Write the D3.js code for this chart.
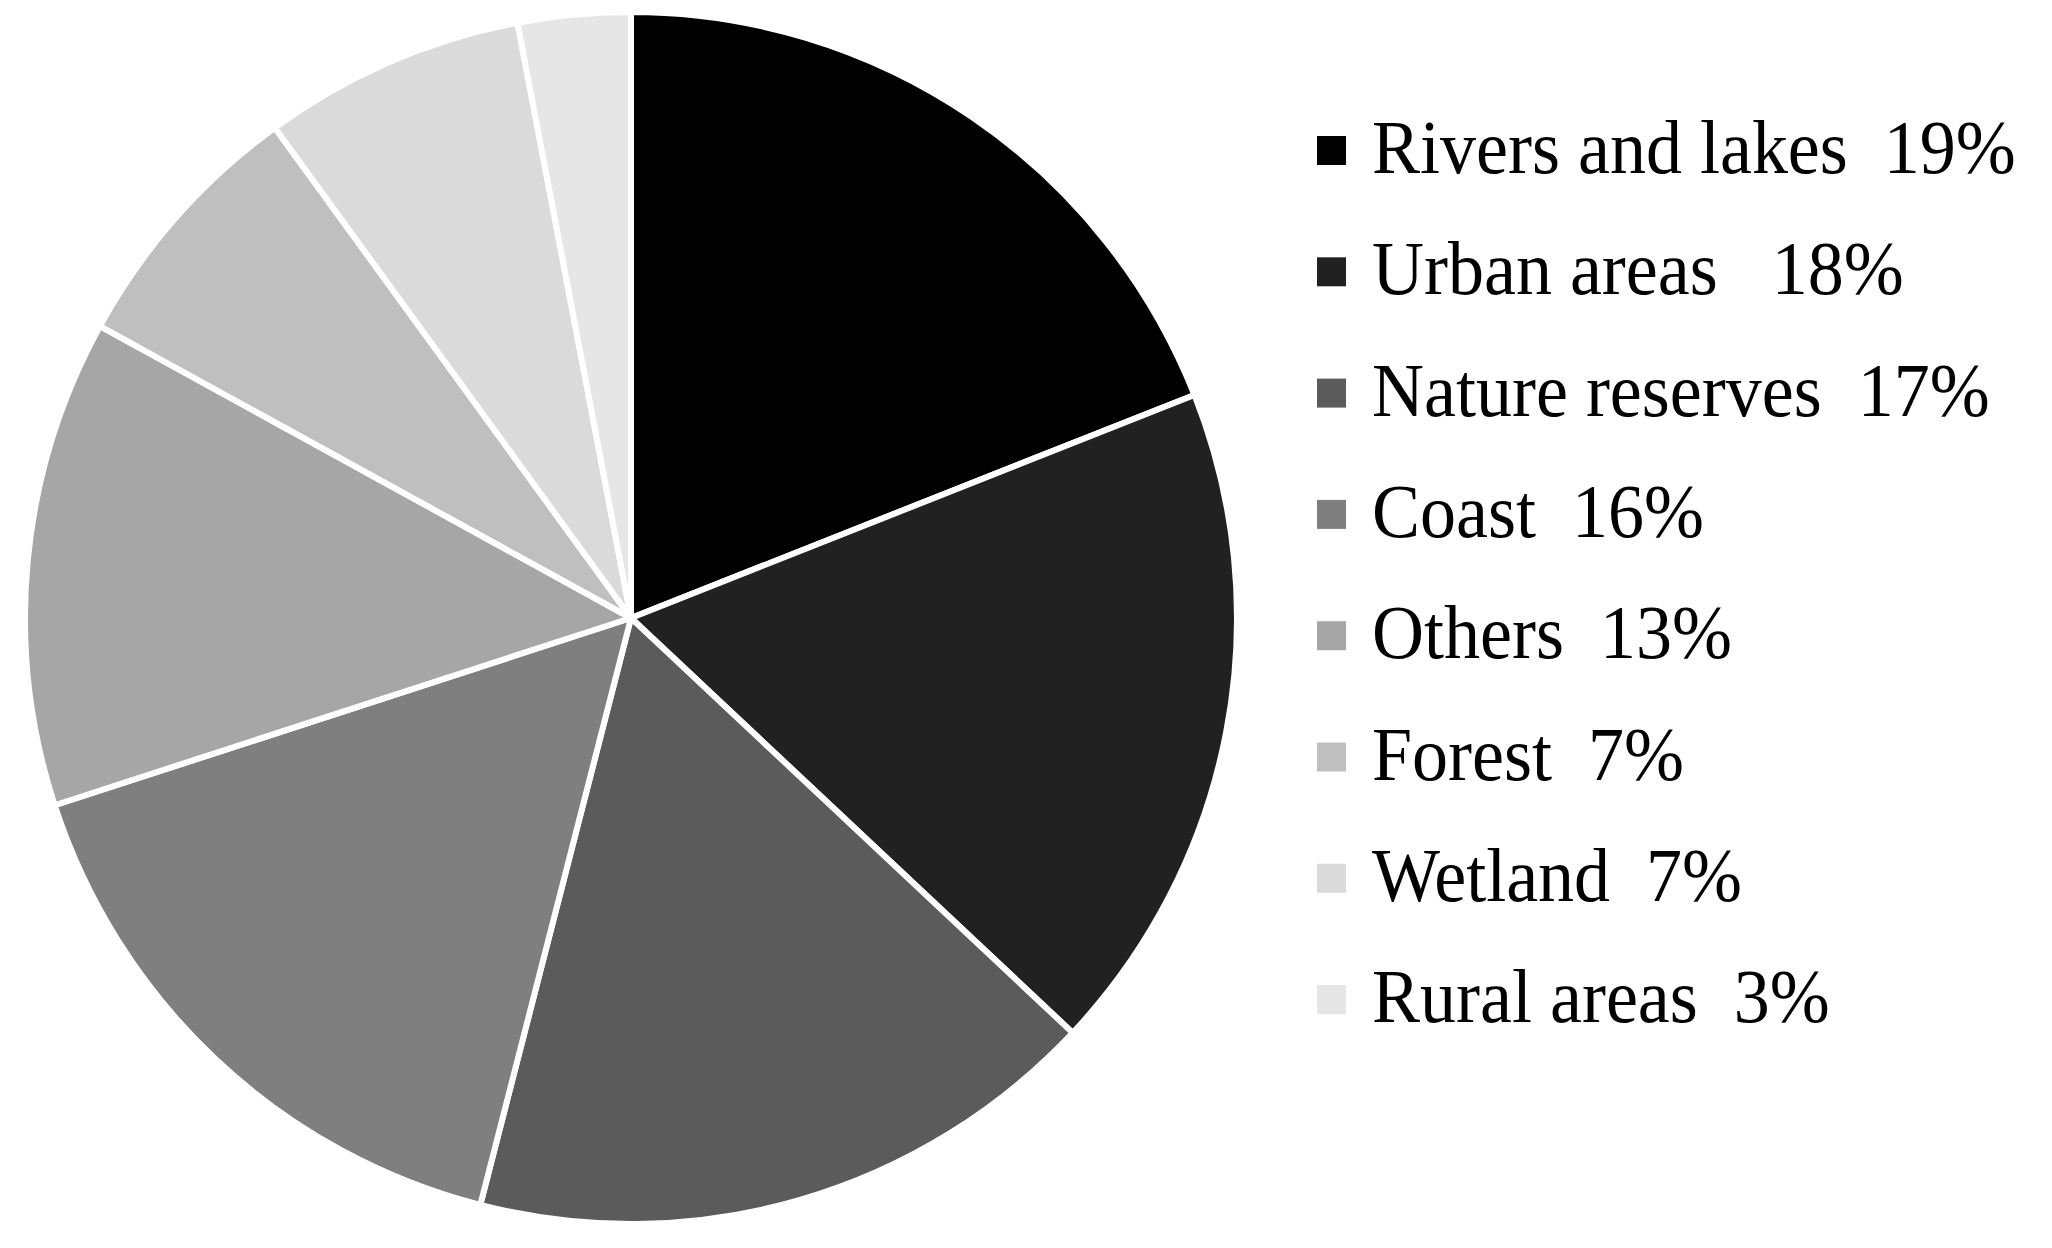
<!DOCTYPE html>
<html>
<head>
<meta charset="utf-8">
<script src="https://cdn.jsdelivr.net/npm/d3@7"></script>
<style>
  body { margin: 0; background: #fff; }
  svg { display: block; }
</style>
</head>
<body>
<div id="chart"></div>
<script>
// land use categories and their share (%)
const categories = ["Rivers and lakes", "Urban areas", "Nature reserves", "Coast", "Others", "Forest", "Wetland", "Rural areas"];
const shares = [19, 18, 17, 16, 13, 7, 7, 3];
const greys = ["#000000", "#212121", "#5b5b5b", "#7f7f7f", "#a6a6a6", "#bfbfbf", "#dadada", "#e6e6e6"];
// gap between label and value differs slightly in the source
const gaps = ["\u00a0\u00a0", "\u00a0\u00a0\u00a0", "\u00a0\u00a0", "\u00a0\u00a0", "\u00a0\u00a0", "\u00a0\u00a0", "\u00a0\u00a0", "\u00a0\u00a0"];

const width = 2052, height = 1248;
const cx = 631, cy = 618, radius = 606;

const svg = d3.select("#chart")
    .append("svg")
    .attr("width", width)
    .attr("height", height);

const data = categories.map((c, i) => ({ name: c, value: shares[i], color: greys[i], gap: gaps[i] }));

const pie = d3.pie()
    .value(d => d.value)
    .sort(null);

const arc = d3.arc()
    .innerRadius(0)
    .outerRadius(radius);

svg.append("g")
    .attr("transform", "translate(" + cx + "," + cy + ")")
    .selectAll("path")
    .data(pie(data))
    .join("path")
    .attr("d", arc)
    .attr("fill", d => d.data.color)
    .attr("stroke", "#fff")
    .attr("stroke-width", 6)
    .attr("stroke-linejoin", "round");

// legend
const y = d3.scalePoint()
    .domain(categories)
    .range([173, 173 + 7 * 121.3]);

const legend = svg.append("g")
    .selectAll("g")
    .data(data)
    .join("g")
    .attr("transform", d => "translate(1317," + y(d.name) + ")");

legend.append("rect")
    .attr("x", 0)
    .attr("y", -37)
    .attr("width", 29)
    .attr("height", 29)
    .attr("fill", d => d.color);

legend.append("text")
    .attr("x", 55)
    .attr("y", 0)
    .attr("transform", "scale(1,1.06)")
    .style("font-family", "'Liberation Serif', 'Times New Roman', serif")
    .style("font-size", "72px")
    .attr("fill", "#000")
    .text(d => d.name + d.gap + d.value + "%");
</script>
</body>
</html>
